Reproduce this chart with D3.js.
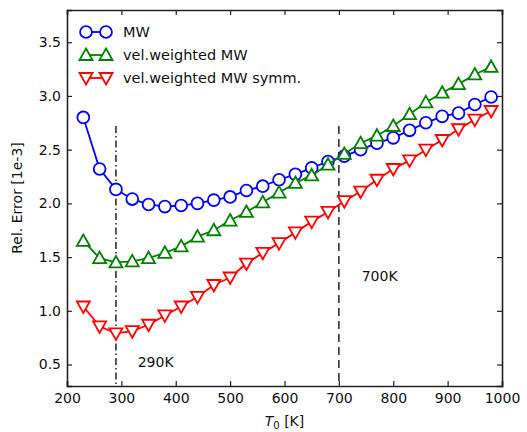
<!DOCTYPE html>
<html lang="en">
<head>
	<meta charset="utf-8">
	<title>Rel. Error vs T0</title>
	<script src="https://d3js.org/d3.v7.min.js"></script>
	<style type="text/css">
		body { margin: 0; background: #fff; }
		.axis path,
		.axis line {
		    fill: none;
		    stroke: #222;
		    stroke-width: 1.2;
		}
		.axis .domain { stroke-width: 1.6; }
		.axis text {
		    font-family: "DejaVu Sans", sans-serif;
		    font-size: 14px;
		    fill: #111;
		}
		.label, .legend text, .note {
		    font-family: "DejaVu Sans", sans-serif;
		    fill: #111;
		}
	</style>
</head>
<body>
<script type="text/javascript">

	// Data
	var temps = [230, 260, 290, 320, 350, 380, 410, 440, 470, 500, 530, 560, 590,
	             620, 650, 680, 710, 740, 770, 800, 830, 860, 890, 920, 950, 980];
	var mw = [2.80, 2.32, 2.13, 2.04, 1.99, 1.97, 1.98, 2.00, 2.03, 2.06, 2.12, 2.16, 2.22,
	          2.27, 2.33, 2.39, 2.44, 2.50, 2.56, 2.61, 2.68, 2.75, 2.81, 2.84, 2.92, 2.99];
	var velMw = [1.65, 1.49, 1.45, 1.46, 1.49, 1.54, 1.60, 1.69, 1.75, 1.84, 1.92, 2.01, 2.10,
	             2.19, 2.26, 2.36, 2.46, 2.56, 2.63, 2.72, 2.83, 2.94, 3.03, 3.11, 3.20, 3.27];
	var velMwSymm = [1.04, 0.855, 0.79, 0.81, 0.87, 0.957, 1.04, 1.13, 1.24, 1.31, 1.44, 1.54, 1.63,
	                 1.73, 1.83, 1.92, 2.02, 2.11, 2.22, 2.32, 2.40, 2.50, 2.59, 2.69, 2.78, 2.86];
	var seriesNames = ["MW", "vel.weighted MW", "vel.weighted MW symm."];
	var xTicks = [200, 300, 400, 500, 600, 700, 800, 900, 1000];
	var yTicks = [0.5, 1.0, 1.5, 2.0, 2.5, 3.0, 3.5];
	var markerLines = [290, 700];
	var markerTexts = ["290K", "700K"];

	// Margins and size
	var margin = {top: 10, right: 25, bottom: 46, left: 67};
	var outer_width = 527;
	var outer_height = 432;
	var svg_width = outer_width - margin.left - margin.right;
	var svg_height = outer_height - margin.top - margin.bottom;

	var svg = d3.select("body")
				.append("svg")
				.attr("width", outer_width)
				.attr("height", outer_height)
				.append("g")
				.attr("transform", "translate(" + margin.left + "," + margin.top + ")");

	var xScale = d3.scaleLinear().domain([200, 1000]).range([0, svg_width]);
	var yScale = d3.scaleLinear().domain([0.3, 3.8]).range([svg_height, 0]);

	// Axes with inward ticks on all four sides
	svg.append("g")
		.attr("class", "axis")
		.attr("transform", "translate(0," + svg_height + ")")
		.call(d3.axisBottom(xScale).tickValues(xTicks).tickSize(-5).tickPadding(7).tickFormat(d3.format("d")));
	svg.append("g")
		.attr("class", "axis")
		.call(d3.axisTop(xScale).tickValues(xTicks).tickSize(-5).tickFormat(""));
	svg.append("g")
		.attr("class", "axis")
		.call(d3.axisLeft(yScale).tickValues(yTicks).tickSize(-5).tickPadding(6).tickFormat(d3.format(".1f")));
	svg.append("g")
		.attr("class", "axis")
		.attr("transform", "translate(" + svg_width + ",0)")
		.call(d3.axisRight(yScale).tickValues(yTicks).tickSize(-5).tickFormat(""));

	// Vertical reference lines
	svg.selectAll(".vline")
		.data(markerLines)
		.enter()
		.append("line")
		.attr("class", "vline")
		.attr("x1", function(d) { return xScale(d); })
		.attr("x2", function(d) { return xScale(d); })
		.attr("y1", yScale(2.72))
		.attr("y2", yScale(0.3))
		.attr("stroke", "#222")
		.attr("stroke-width", 1.5)
		.attr("stroke-dasharray", function(d, i) { return i === 0 ? "7,3,1.5,3" : "8,5"; });

	svg.append("text").attr("class", "note")
		.attr("x", xScale(330)).attr("y", yScale(0.48))
		.style("font-size", "14px").text(markerTexts[0]);
	svg.append("text").attr("class", "note")
		.attr("x", xScale(742)).attr("y", yScale(1.28))
		.style("font-size", "14px").text(markerTexts[1]);

	// Marker shapes
	function markerPath(kind) {
		if (kind === "circle") return d3.symbol(d3.symbolCircle, 110)();
		if (kind === "up") return "M0,-6.5L6.5,5L-6.5,5Z";
		return "M0,6.5L6.5,-5L-6.5,-5Z";
	}

	var series = [
		{name: seriesNames[0], values: mw, color: "#0000ff", kind: "circle"},
		{name: seriesNames[1], values: velMw, color: "#008000", kind: "up"},
		{name: seriesNames[2], values: velMwSymm, color: "#ff0000", kind: "down"}
	];

	var line = d3.line()
		.x(function(d, i) { return xScale(temps[i]); })
		.y(function(d) { return yScale(d); });

	series.forEach(function(s) {
		svg.append("path")
			.attr("d", line(s.values))
			.attr("fill", "none")
			.attr("stroke", s.color)
			.attr("stroke-width", 1.8);

		svg.selectAll(".m-" + s.kind)
			.data(s.values)
			.enter()
			.append("path")
			.attr("class", "m-" + s.kind)
			.attr("transform", function(d, i) {
				return "translate(" + xScale(temps[i]) + "," + yScale(d) + ")";
			})
			.attr("d", markerPath(s.kind))
			.attr("fill", "#fff")
			.attr("stroke", s.color)
			.attr("stroke-width", 1.8);
	});

	// Legend
	var legend = svg.append("g")
		.attr("class", "legend")
		.attr("transform", "translate(13,22)");

	series.forEach(function(s, i) {
		var row = legend.append("g").attr("transform", "translate(0," + (i * 23) + ")");
		row.append("line")
			.attr("x1", 6).attr("x2", 26)
			.attr("stroke", s.color).attr("stroke-width", 1.8);
		[6, 26].forEach(function(px) {
			row.append("path")
				.attr("transform", "translate(" + px + ",0)")
				.attr("d", markerPath(s.kind))
				.attr("fill", "#fff")
				.attr("stroke", s.color)
				.attr("stroke-width", 1.8);
		});
		row.append("text")
			.attr("x", 43)
			.attr("dy", "0.35em")
			.style("font-size", "14.5px")
			.text(s.name);
	});

	// Axis labels
	svg.append("text")
		.attr("class", "label")
		.attr("transform", "translate(-45," + (svg_height / 2) + ") rotate(-90)")
		.attr("text-anchor", "middle")
		.style("font-size", "14px")
		.text("Rel. Error [1e-3]");

	var xl = svg.append("text")
		.attr("class", "label")
		.attr("x", svg_width / 2)
		.attr("y", svg_height + 40)
		.attr("text-anchor", "middle")
		.style("font-size", "14px");
	xl.append("tspan").style("font-style", "italic").text("T");
	xl.append("tspan").attr("dy", 3).style("font-size", "10px").text("0");
	xl.append("tspan").attr("dy", -3).text(" [K]");

</script>
</body>
</html>
